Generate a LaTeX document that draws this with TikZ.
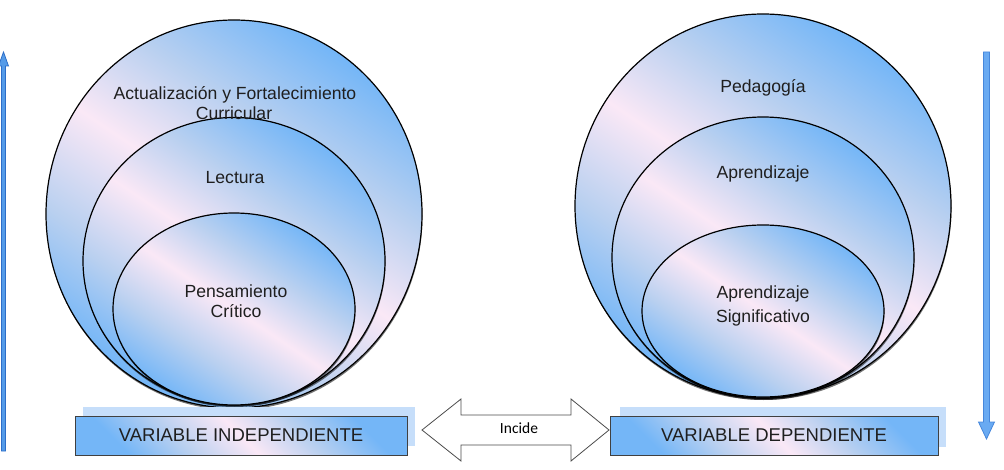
\documentclass[tikz,border=0pt]{standalone}
\usepackage{fontspec}
\setmainfont{Liberation Sans}
\newfontfamily\calibrifont{Carlito}
\usetikzlibrary{shapes.geometric,shadows}
\definecolor{bB}{RGB}{185,208,240}
\definecolor{pk}{RGB}{250,232,246}
\definecolor{bC}{RGB}{116,182,247}
\definecolor{shadowbox}{RGB}{198,222,250}
\definecolor{arrowL}{RGB}{85,155,232}
\definecolor{arrowLd}{RGB}{45,110,200}
\definecolor{arrowR}{RGB}{105,170,242}
\definecolor{arrowRd}{RGB}{70,135,220}
\pgfdeclarehorizontalshading{bubble}{100bp}{color(0bp)=(bC); color(25bp)=(bC); color(37bp)=(bB); color(50bp)=(pk); color(62bp)=(bB); color(75bp)=(bC); color(100bp)=(bC)}
\tikzset{
  bub/.style={ellipse, draw=black, line width=1.2pt, shading=bubble, shading angle=56,
    inner sep=0pt, outer sep=0pt,
    drop shadow={shadow xshift=0.5pt, shadow yshift=-2pt, opacity=0.55, fill=black}},
  bubtext/.style={font=\fontsize{17.6}{20}\selectfont, text=black!88, anchor=base, inner sep=0pt},
  vbox/.style={draw=black!75, line width=0.9pt, shading=bubble, shading angle=45,
    inner sep=0pt, font=\fontsize{18.5}{20}\selectfont, text=black!88},
  boxback/.style={fill=shadowbox},
  incarrow/.style={draw=black!70, line width=0.8pt, fill=white, line join=miter},
  sidearrowL/.style={fill=arrowL, draw=arrowLd, line width=0.8pt},
  sidearrowR/.style={fill=arrowR, draw=arrowRd, line width=0.8pt}
}
\begin{document}
\begin{tikzpicture}[x=1pt,y=-1pt]
\useasboundingbox (0,0) rectangle (1004,470);

% left set of ellipses
\node[bub, minimum width=376pt, minimum height=388pt] (L1) at (234,214) {};
\node[bub, minimum width=302pt, minimum height=287pt] (L2) at (234,261) {};
\node[bub, minimum width=242pt, minimum height=192pt] (L3) at (234,309) {};
\node[bubtext] (t1a) at (235,100) {Actualización y Fortalecimiento};
\node[bubtext] (t1b) at (234,120) {Curricular};
\node[bubtext] (t2) at (235,184) {Lectura};
\node[bubtext] (t3a) at (236,298) {Pensamiento};
\node[bubtext] (t3b) at (236,318) {Crítico};

% right set of ellipses
\node[bub, minimum width=376pt, minimum height=384pt] (R1) at (763,206) {};
\node[bub, minimum width=302pt, minimum height=281pt] (R2) at (763,257.5) {};
\node[bub, minimum width=242pt, minimum height=172pt] (R3) at (763,311) {};
\node[bubtext] (u1) at (763,93) {Pedagogía};
\node[bubtext] (u2) at (763,179) {Aprendizaje};
\node[bubtext] (u3a) at (763,299) {Aprendizaje};
\node[bubtext] (u3b) at (763,323) {Significativo};

% boxes
\fill[boxback] (83,407) rectangle (415,446);
\node[vbox, minimum width=332pt, minimum height=39pt] (vi) at (241,435.5) {VARIABLE INDEPENDIENTE};
\fill[boxback] (620,407) rectangle (946,447);
\node[vbox, minimum width=328pt, minimum height=39pt] (vd) at (774,435.5) {VARIABLE DEPENDIENTE};

% double arrow
\draw[incarrow] (422,430) -- (461,399) -- (461,415) -- (571,415) -- (571,399) -- (609,430)
  -- (571,461) -- (571,445) -- (461,445) -- (461,461) -- cycle;
\node[font=\calibrifont\fontsize{15.5}{17}\selectfont, inner sep=0pt] (inc) at (519,428) {Incide};

% side arrows
\draw[sidearrowL] (1.5,451) -- (1.5,66) -- (-1.5,66) -- (3.5,52) -- (8.5,66) -- (5.5,66) -- (5.5,451) -- cycle;
\draw[sidearrowR] (983.5,52) -- (983.5,422) -- (978.5,422) -- (986.5,439) -- (994.5,422) -- (989.5,422) -- (989.5,52) -- cycle;
\end{tikzpicture}
\end{document}
